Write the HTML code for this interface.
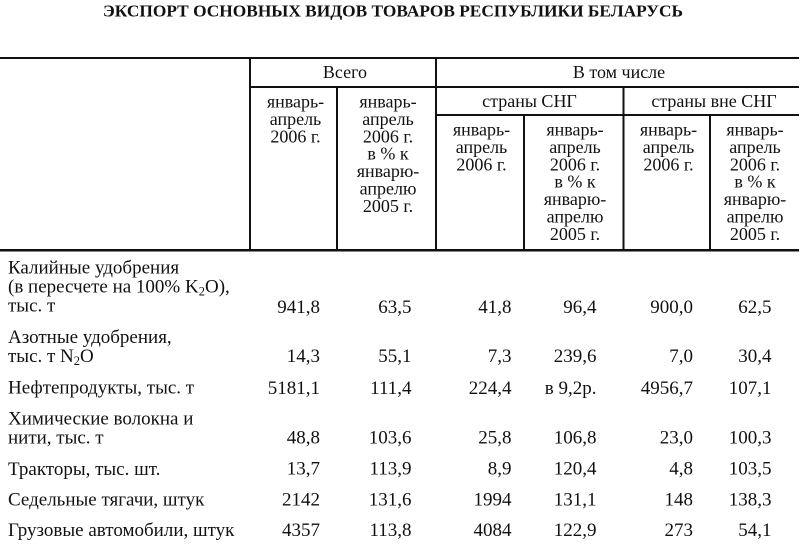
<!DOCTYPE html>
<html>
<head>
<meta charset="utf-8">
<style>
  html, body { margin:0; padding:0; background:#fff; }
  body { width:802px; height:549px; overflow:hidden; }
  svg { display:block; }
  text { font-family: "Liberation Serif", "DejaVu Serif", serif; fill:#111; }
  .h { font-size:18px; text-anchor:middle; }
  .b { font-size:19px; }
  .n { font-size:19px; text-anchor:end; }
  .t { font-size:17px; font-weight:bold; }
</style>
</head>
<body>
<svg width="802" height="549" viewBox="0 0 802 549" xmlns="http://www.w3.org/2000/svg">
  <rect x="0" y="0" width="802" height="549" fill="#fff"/>

  <!-- Title -->
  <text class="t" x="103" y="16.5" textLength="580" lengthAdjust="spacingAndGlyphs">ЭКСПОРТ ОСНОВНЫХ ВИДОВ ТОВАРОВ РЕСПУБЛИКИ БЕЛАРУСЬ</text>

  <!-- Lines -->
  <g fill="#111">
    <rect x="0" y="57" width="799" height="2"/>
    <rect x="250" y="86" width="549" height="2"/>
    <rect x="436" y="114" width="363" height="2"/>
    <rect x="0" y="249" width="799" height="2.5"/>
    <rect x="249" y="57" width="2" height="193"/>
    <rect x="336" y="86" width="2" height="164"/>
    <rect x="435" y="57" width="2" height="193"/>
    <rect x="523" y="114" width="2" height="136"/>
    <rect x="622.5" y="86" width="2" height="164"/>
    <rect x="709" y="114" width="2" height="136"/>
  </g>

  <!-- Header -->
  <text class="h" x="345" y="78">Всего</text>
  <text class="h" x="619" y="78">В том числе</text>

  <text class="h" x="295.5" y="107.5">январь-</text>
  <text class="h" x="295.5" y="124.9">апрель</text>
  <text class="h" x="295.5" y="142.3">2006 г.</text>

  <text class="h" x="388" y="107.5">январь-</text>
  <text class="h" x="388" y="124.9">апрель</text>
  <text class="h" x="388" y="142.3">2006 г.</text>
  <text class="h" x="388" y="159.7">в % к</text>
  <text class="h" x="388" y="177.1">январю-</text>
  <text class="h" x="388" y="194.5">апрелю</text>
  <text class="h" x="388" y="211.9">2005 г.</text>

  <text class="h" x="529.5" y="107">страны СНГ</text>
  <text class="h" x="714" y="107">страны вне СНГ</text>

  <text class="h" x="481.5" y="135.5">январь-</text>
  <text class="h" x="481.5" y="152.9">апрель</text>
  <text class="h" x="481.5" y="170.3">2006 г.</text>

  <text class="h" x="575" y="135.5">январь-</text>
  <text class="h" x="575" y="152.9">апрель</text>
  <text class="h" x="575" y="170.3">2006 г.</text>
  <text class="h" x="575" y="187.7">в % к</text>
  <text class="h" x="575" y="205.1">январю-</text>
  <text class="h" x="575" y="222.5">апрелю</text>
  <text class="h" x="575" y="239.9">2005 г.</text>

  <text class="h" x="668.5" y="135.5">январь-</text>
  <text class="h" x="668.5" y="152.9">апрель</text>
  <text class="h" x="668.5" y="170.3">2006 г.</text>

  <text class="h" x="755" y="135.5">январь-</text>
  <text class="h" x="755" y="152.9">апрель</text>
  <text class="h" x="755" y="170.3">2006 г.</text>
  <text class="h" x="755" y="187.7">в % к</text>
  <text class="h" x="755" y="205.1">январю-</text>
  <text class="h" x="755" y="222.5">апрелю</text>
  <text class="h" x="755" y="239.9">2005 г.</text>

  <!-- Body: labels -->
  <text class="b" x="8" y="273.5">Калийные удобрения</text>
  <text class="b" x="8" y="292.3">(в пересчете на 100% K<tspan font-size="12.5" dy="3">2</tspan><tspan dy="-3">O),</tspan></text>
  <text class="b" x="8" y="311.5">тыс. т</text>

  <text class="b" x="8" y="343">Азотные удобрения,</text>
  <text class="b" x="8" y="362">тыс. т N<tspan font-size="12.5" dy="3">2</tspan><tspan dy="-3">O</tspan></text>

  <text class="b" x="8" y="393.5">Нефтепродукты, тыс. т</text>

  <text class="b" x="8" y="424.5">Химические волокна и</text>
  <text class="b" x="8" y="443.3">нити, тыс. т</text>

  <text class="b" x="8" y="474.8">Тракторы, тыс. шт.</text>
  <text class="b" x="8" y="505.6">Седельные тягачи, штук</text>
  <text class="b" x="8" y="535.8">Грузовые автомобили, штук</text>

  <!-- Body: numbers -->
  <g>
    <text class="n" x="320" y="312.8">941,8</text>
    <text class="n" x="411.5" y="312.8">63,5</text>
    <text class="n" x="511.5" y="312.8">41,8</text>
    <text class="n" x="596.5" y="312.8">96,4</text>
    <text class="n" x="693" y="312.8">900,0</text>
    <text class="n" x="771.5" y="312.8">62,5</text>

    <text class="n" x="320" y="362">14,3</text>
    <text class="n" x="411.5" y="362">55,1</text>
    <text class="n" x="511.5" y="362">7,3</text>
    <text class="n" x="596.5" y="362">239,6</text>
    <text class="n" x="693" y="362">7,0</text>
    <text class="n" x="771.5" y="362">30,4</text>

    <text class="n" x="320" y="394">5181,1</text>
    <text class="n" x="411.5" y="394">111,4</text>
    <text class="n" x="511.5" y="394">224,4</text>
    <text class="n" x="596.5" y="394">в 9,2р.</text>
    <text class="n" x="693" y="394">4956,7</text>
    <text class="n" x="771.5" y="394">107,1</text>

    <text class="n" x="320" y="443.3">48,8</text>
    <text class="n" x="411.5" y="443.3">103,6</text>
    <text class="n" x="511.5" y="443.3">25,8</text>
    <text class="n" x="596.5" y="443.3">106,8</text>
    <text class="n" x="693" y="443.3">23,0</text>
    <text class="n" x="771.5" y="443.3">100,3</text>

    <text class="n" x="320" y="474.5">13,7</text>
    <text class="n" x="411.5" y="474.5">113,9</text>
    <text class="n" x="511.5" y="474.5">8,9</text>
    <text class="n" x="596.5" y="474.5">120,4</text>
    <text class="n" x="693" y="474.5">4,8</text>
    <text class="n" x="771.5" y="474.5">103,5</text>

    <text class="n" x="320" y="505.5">2142</text>
    <text class="n" x="411.5" y="505.5">131,6</text>
    <text class="n" x="511.5" y="505.5">1994</text>
    <text class="n" x="596.5" y="505.5">131,1</text>
    <text class="n" x="693" y="505.5">148</text>
    <text class="n" x="771.5" y="505.5">138,3</text>

    <text class="n" x="320" y="536">4357</text>
    <text class="n" x="411.5" y="536">113,8</text>
    <text class="n" x="511.5" y="536">4084</text>
    <text class="n" x="596.5" y="536">122,9</text>
    <text class="n" x="693" y="536">273</text>
    <text class="n" x="771.5" y="536">54,1</text>
  </g>
</svg>
</body>
</html>
